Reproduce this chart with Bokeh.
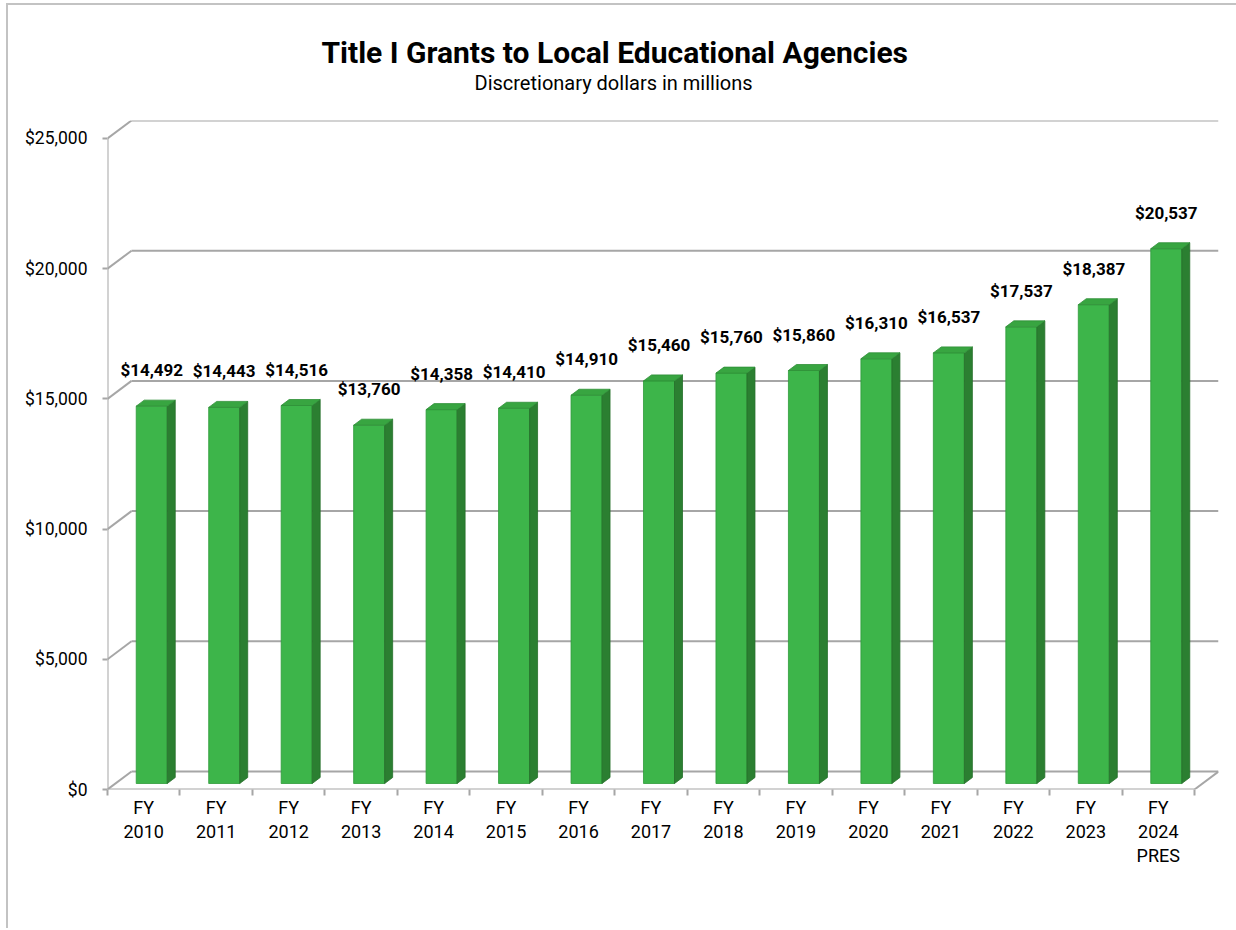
from bokeh.plotting import figure
from bokeh.models import FixedTicker, Title
from bokeh.core.properties import value
from bokeh.embed import file_html
from bokeh.resources import INLINE

# ---- data ----
years = ["FY\n2010", "FY\n2011", "FY\n2012", "FY\n2013", "FY\n2014", "FY\n2015",
         "FY\n2016", "FY\n2017", "FY\n2018", "FY\n2019", "FY\n2020", "FY\n2021",
         "FY\n2022", "FY\n2023", "FY\n2024\nPRES"]
funding = [14492, 14443, 14516, 13760, 14358, 14410, 14910, 15460, 15760,
           15860, 16310, 16537, 17537, 18387, 20537]
y_ticks = [0, 5000, 10000, 15000, 20000, 25000]
y_tick_labels = ["$0", "$5,000", "$10,000", "$15,000", "$20,000", "$25,000"]
title_text = "Title I Grants to Local Educational Agencies"
subtitle_text = "Discretionary dollars in millions"

# ---- 3D geometry (in data units) ----
n = len(funding)
Y_MAX = y_ticks[-1]
DXB = 0.3312      # back-wall depth offset, x (category units)
DYB = 691.2       # back-wall depth offset, y (value units)
d1x, d1y = DXB / 3, DYB / 3
d2x, d2y = 2 * DXB / 3, 2 * DYB / 3
HW = 0.214        # half width of bar front face

GRID = "#A6A6A6"
FRONT = "#3DB54A"
SIDE = "#2B7F31"
TOP = "#38A541"
FONT = "Roboto"

p = figure(width=1236, height=928, x_range=(0, n + DXB), y_range=(0, Y_MAX + DYB),
           output_backend="svg", toolbar_location=None,
           min_border_left=107, min_border_right=18, min_border_top=120, min_border_bottom=139)
p.outline_line_color = None
p.grid.visible = False
p.background_fill_color = "white"
p.border_fill_color = None
p.styles = {
    "background-color": "white",
    "background-image": "linear-gradient(#c3c3c3,#c3c3c3), linear-gradient(#c3c3c3,#c3c3c3)",
    "background-size": "2px 100%, 100% 2px",
    "background-position": "6px 3px, 6px 3px",
    "background-repeat": "no-repeat",
}

# back wall gridlines
p.segment(x0=[DXB] * len(y_ticks), y0=[t + DYB for t in y_ticks],
          x1=[n + DXB] * len(y_ticks), y1=[t + DYB for t in y_ticks],
          line_color=GRID, line_width=2)
# side wall diagonals
p.segment(x0=[0] * len(y_ticks), y0=y_ticks,
          x1=[DXB] * len(y_ticks), y1=[t + DYB for t in y_ticks],
          line_color=GRID, line_width=2)
# front vertical axis line, floor front edge, floor right edge
p.segment(x0=[0, 0, n], y0=[0, 0, 0], x1=[0, n, n + DXB], y1=[Y_MAX, 0, DYB],
          line_color=GRID, line_width=2)

# bars
centers = [i + 0.5 for i in range(n)]
p.quad(left=[c + d1x - HW for c in centers], right=[c + d1x + HW for c in centers],
       bottom=[d1y] * n, top=[v + d1y for v in funding],
       fill_color=FRONT, line_color="#2F9A3A", line_width=0.8)
side_xs, side_ys, top_xs, top_ys = [], [], [], []
for c, v in zip(centers, funding):
    r1, r2 = c + d1x + HW, c + d2x + HW
    l1, l2 = c + d1x - HW, c + d2x - HW
    side_xs.append([r1, r2, r2, r1])
    side_ys.append([d1y, d2y, v + d2y, v + d1y])
    top_xs.append([l1, l2, r2, r1])
    top_ys.append([v + d1y, v + d2y, v + d2y, v + d1y])
p.patches(side_xs, side_ys, fill_color=SIDE, line_color="#256E2A", line_width=0.8)
p.patches(top_xs, top_ys, fill_color=TOP, line_color="#2F8F37", line_width=0.8)

# data labels
p.text(x=[c + d1x for c in centers], y=[v + d1y for v in funding],
       text=[f"${v:,}" for v in funding], y_offset=-36,
       text_align="center", text_baseline="middle",
       text_font=value(FONT), text_font_style="bold", text_font_size="17px",
       text_color="black")

# axes
ya = p.yaxis[0]
ya.ticker = FixedTicker(ticks=y_ticks, minor_ticks=[])
ya.major_label_overrides = {t: s for t, s in zip(y_ticks, y_tick_labels)}
ya.axis_line_color = None
ya.major_tick_in = 0
ya.major_tick_out = 5
ya.major_tick_line_color = GRID
ya.major_tick_line_width = 2
ya.major_label_standoff = 15
ya.major_label_text_font = FONT
ya.major_label_text_font_size = "17.5px"
ya.major_label_text_color = "black"

xa = p.xaxis[0]
xa.ticker = FixedTicker(ticks=centers, minor_ticks=list(range(n + 1)))
xa.major_label_overrides = {c: s for c, s in zip(centers, years)}
xa.axis_line_color = None
xa.major_tick_in = 0
xa.major_tick_out = 0
xa.minor_tick_in = 0
xa.minor_tick_out = 6
xa.minor_tick_line_color = GRID
xa.minor_tick_line_width = 2
xa.major_label_standoff = 1
xa.major_label_text_font = FONT
xa.major_label_text_font_size = "18px"
xa.major_label_text_color = "black"
xa.major_label_text_line_height = 1.15

# titles: subtitle (nearest the frame), then main title pulled down onto it
p.add_layout(Title(text=subtitle_text, align="left", offset=367, text_font=FONT,
                   text_font_size="20px", text_font_style="normal",
                   text_color="black", standoff=52), "above")
p.add_layout(Title(text=title_text, align="left", offset=214, text_font=FONT,
                   text_font_size="30px", text_font_style="bold",
                   text_color="black", standoff=-54), "above")

open("out.html", "w").write(file_html(p, INLINE))
